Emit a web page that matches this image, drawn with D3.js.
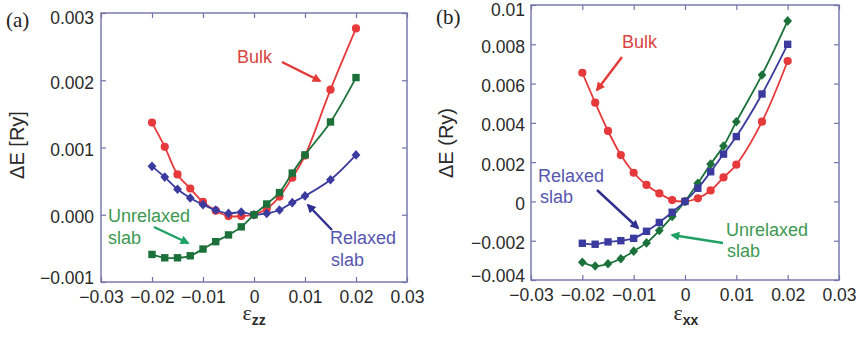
<!DOCTYPE html>
<html><head><meta charset="utf-8">
<script src="https://cdn.jsdelivr.net/npm/d3@7"></script>
<style>
body{margin:0;background:#fff}
svg{display:block}
text{font-family:"Liberation Sans",Arial,Helvetica,sans-serif}
</style></head>
<body><svg id="c" width="856" height="337"></svg>
<script>
// strain values (shared by all series)
const strain = [-0.02,-0.0175,-0.015,-0.0125,-0.01,-0.0075,-0.005,-0.0025,0,0.0025,0.005,0.0075,0.01,0.015,0.02];

// Panel (a): ΔE vs ε_zz
const bulkA      = [0.00137,0.00101,0.00060,0.00039,0.00019,0.00006,-0.00002,-0.00002,0,0.00009,0.00027,0.00055,0.00088,0.00186,0.00277];
const unrelaxedA = [-0.00059,-0.00064,-0.00064,-0.00061,-0.00051,-0.00040,-0.00030,-0.00018,0,0.00016,0.00033,0.00062,0.00089,0.00138,0.00204];
const relaxedA   = [0.00072,0.00056,0.00038,0.00025,0.00015,0.00007,0.00002,0.00004,0,0.00002,0.00007,0.00018,0.00028,0.00052,0.00089];

// Panel (b): ΔE vs ε_xx
const bulkB      = [0.00655,0.00503,0.00359,0.00236,0.00146,0.00084,0.00041,0.00007,0,0.00016,0.00056,0.00122,0.00187,0.00406,0.00715];
const relaxedB   = [-0.00213,-0.00218,-0.00206,-0.00200,-0.00188,-0.00152,-0.00107,-0.00055,0,0.00067,0.00151,0.00241,0.00330,0.00547,0.00800];
const unrelaxedB = [-0.00310,-0.00329,-0.00317,-0.00292,-0.00253,-0.00211,-0.00148,-0.00077,0,0.00092,0.00190,0.00282,0.00406,0.00644,0.00919];

// ticks
const xTicks = [-0.03,-0.02,-0.01,0,0.01,0.02,0.03];
const xTickLabels = ["\u22120.03","\u22120.02","\u22120.01","0","0.01","0.02","0.03"];
const yTicksA = [-0.001,0,0.001,0.002,0.003];
const yTickLabelsA = ["\u22120.001","0.000","0.001","0.002","0.003"];
const yTicksB = [-0.004,-0.002,0,0.002,0.004,0.006,0.008,0.01];
const yTickLabelsB = ["\u22120.004","\u22120.002","0","0.002","0.004","0.006","0.008","0.01"];

const RED="#e6393c", GREEN="#1b7139", BLUE="#3b3b9f";
const FRAME="#7272aa";

const svg = d3.select("#c");
svg.append("rect").attr("width",856).attr("height",337).attr("fill","#fff");

const defs = svg.append("defs");
function arrowMarker(id,color){
  defs.append("marker").attr("id",id).attr("viewBox","0 0 10 10")
    .attr("refX",8).attr("refY",5).attr("markerWidth",10).attr("markerHeight",9)
    .attr("markerUnits","userSpaceOnUse").attr("orient","auto")
    .append("path").attr("d","M0,0 L10,5 L0,10 Z").attr("fill",color);
}
arrowMarker("ar","#e23a36"); arrowMarker("ag","#1fa064"); arrowMarker("ab","#2f2f8f");

function markerPath(shape){
  if(shape==="circle") return "M4.1,0 A4.1,4.1 0 1,1 -4.1,0 A4.1,4.1 0 1,1 4.1,0 Z";
  if(shape==="square") return "M-3.7,-3.7 H3.7 V3.7 H-3.7 Z";
  return "M0,-4.8 L4.4,0 L0,4.8 L-4.4,0 Z";
}

function panel(cfg){
  const x = d3.scaleLinear().domain([-0.03,0.03]).range(cfg.xr);
  const y = d3.scaleLinear().domain(cfg.yd).range(cfg.yr);
  const g = svg.append("g");
  const fmtX = d => xTickLabels[xTicks.indexOf(d)];
  const fmtY = d => cfg.yLabels[cfg.yTicks.indexOf(d)];
  const xb = g.append("g").attr("transform",`translate(0,${cfg.yr[0]})`)
    .call(d3.axisBottom(x).tickValues(xTicks).tickSize(-5).tickSizeOuter(0).tickPadding(9).tickFormat(fmtX));
  const xt = g.append("g").attr("transform",`translate(0,${cfg.yr[1]})`)
    .call(d3.axisTop(x).tickValues(xTicks).tickSize(-5).tickSizeOuter(0).tickFormat(""));
  const yl = g.append("g").attr("transform",`translate(${cfg.xr[0]},0)`)
    .call(d3.axisLeft(y).tickValues(cfg.yTicks).tickSize(-5).tickSizeOuter(0).tickPadding(cfg.yPad).tickFormat(fmtY));
  const yr = g.append("g").attr("transform",`translate(${cfg.xr[1]},0)`)
    .call(d3.axisRight(y).tickValues(cfg.yTicks).tickSize(-5).tickSizeOuter(0).tickFormat(""));
  [xb,xt,yl,yr].forEach(a=>{
    a.select(".domain").remove();
    a.selectAll(".tick line").attr("stroke",FRAME).attr("stroke-width",1.2);
    a.selectAll(".tick text").attr("fill","#2a2a2a").style("font-size","17.5px")
      .style("font-family",'"Liberation Sans",Arial,sans-serif');
  });
  yl.selectAll(".tick text").attr("dy",d => d===cfg.yd[1] ? "0.62em" : (d===cfg.yd[0] ? "0.1em" : "0.45em"));
  g.append("rect").attr("x",cfg.xr[0]).attr("y",cfg.yr[1])
    .attr("width",cfg.xr[1]-cfg.xr[0]).attr("height",cfg.yr[0]-cfg.yr[1])
    .attr("fill","none").attr("stroke",FRAME).attr("stroke-width",1.4);

  const line = d3.line().x((d,i)=>x(strain[i])).y(d=>y(d)).curve(d3.curveCatmullRom.alpha(0.5));
  cfg.series.forEach(s=>{
    g.append("path").datum(s.values).attr("d",line).attr("fill","none")
      .attr("stroke",s.color).attr("stroke-width",1.8);
    g.selectAll(null).data(s.values).enter().append("path")
      .attr("d",markerPath(s.shape))
      .attr("transform",(d,i)=>`translate(${x(strain[i])},${y(d)})`)
      .attr("fill",s.color);
  });

  // annotations
  cfg.texts.forEach(t=>{
    g.append("text").attr("x",t[0]).attr("y",t[1]).text(t[2]).attr("fill",t[3])
      .style("font-size","18px");
  });
  cfg.arrows.forEach(a=>{
    g.append("line").attr("x1",a[0]).attr("y1",a[1]).attr("x2",a[2]).attr("y2",a[3])
      .attr("stroke",a[4]).attr("stroke-width",2.4).attr("marker-end",`url(#${a[5]})`);
  });

  // panel letter
  g.append("text").attr("x",cfg.letter[0]).attr("y",cfg.letter[1]).text(cfg.letter[2])
    .style("font-family",'"Liberation Serif","Times New Roman",serif').style("font-size","21px").attr("fill","#222");
  // y title
  g.append("text").attr("transform",`translate(${cfg.ytitle[0]},${cfg.ytitle[1]}) rotate(-90)`)
    .attr("text-anchor","middle").style("font-size","20px").attr("fill","#2a2a2a").text(cfg.ytitle[2]);
  // x title
  const xtitle = g.append("text").attr("x",cfg.xtitle[0]).attr("y",cfg.xtitle[1]).attr("text-anchor","middle").attr("fill","#2a2a2a");
  xtitle.append("tspan").style("font-family",'"Liberation Serif","Times New Roman",serif').style("font-size","22px").text("\u03b5");
  xtitle.append("tspan").attr("dy",5).style("font-size","14px").style("font-weight","bold").text(cfg.xtitle[2]);
}

panel({
  xr:[101,407], yr:[282,13], yd:[-0.001,0.003], yTicks:yTicksA, yLabels:yTickLabelsA, yPad:7,
  series:[
    {values:bulkA,color:RED,shape:"circle"},
    {values:relaxedA,color:BLUE,shape:"diamond"},
    {values:unrelaxedA,color:GREEN,shape:"square"}
  ],
  texts:[[237,63,"Bulk","#d94444"],[108,222,"Unrelaxed","#3d9952"],[108,244,"slab","#3d9952"],
         [330,244,"Relaxed","#5656b0"],[331,266,"slab","#5656b0"]],
  arrows:[[282,62,320,81,"#e23a36","ar"],[154,227,188,243,"#1fa064","ag"],[332,230,308,205,"#2f2f8f","ab"]],
  letter:[6,27,"(a)"], ytitle:[24,145,"\u0394E [Ry]"], xtitle:[254,320,"zz"]
});

panel({
  xr:[531,839], yr:[280,5], yd:[-0.004,0.01], yTicks:yTicksB, yLabels:yTickLabelsB, yPad:6,
  series:[
    {values:bulkB,color:RED,shape:"circle"},
    {values:unrelaxedB,color:GREEN,shape:"diamond"},
    {values:relaxedB,color:BLUE,shape:"square"}
  ],
  texts:[[622,48,"Bulk","#d94444"],[538,182,"Relaxed","#5656b0"],[540,203,"slab","#5656b0"],
         [726,236,"Unrelaxed","#3d9952"],[727,257,"slab","#3d9952"]],
  arrows:[[622,57,597,90,"#e23a36","ar"],[597,190,638,228,"#2f2f8f","ab"],[723,243,672,235,"#1fa064","ag"]],
  letter:[436,24,"(b)"], ytitle:[453,143,"\u0394E (Ry)"], xtitle:[686,320,"xx"]
});
</script></body></html>
